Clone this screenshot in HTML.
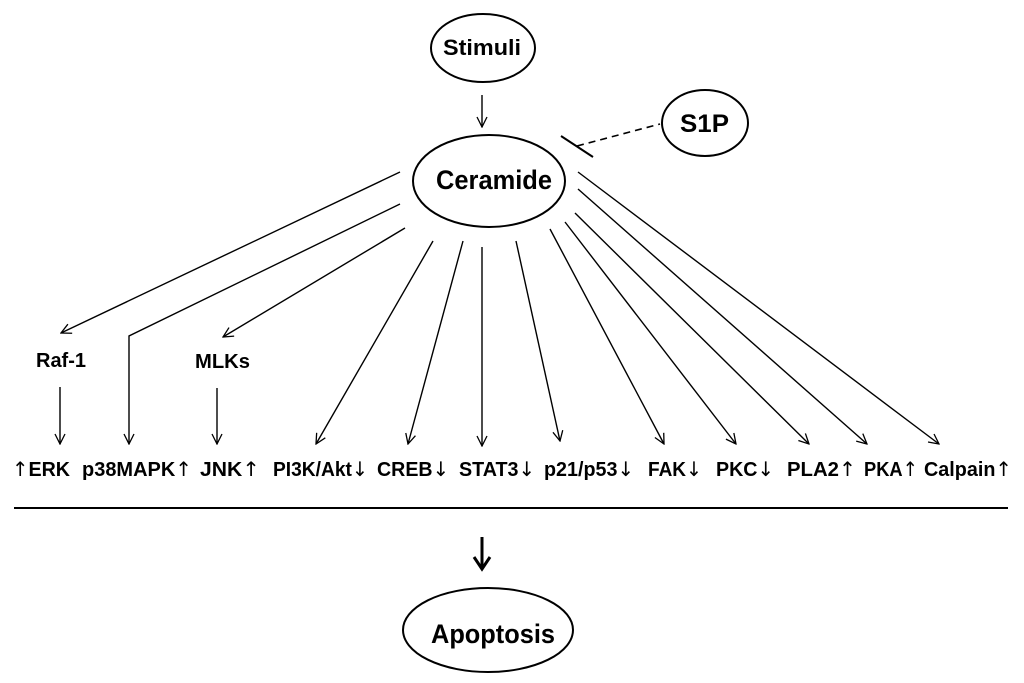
<!DOCTYPE html>
<html><head><style>html,body{margin:0;padding:0;background:#fff}svg{display:block}</style></head>
<body>
<svg width="1024" height="683" viewBox="0 0 1024 683" xmlns="http://www.w3.org/2000/svg" font-family="Liberation Sans, Arial, sans-serif" font-weight="bold">
<defs>
<marker id="a" viewBox="0 0 12 12" refX="11" refY="6" markerWidth="12" markerHeight="12" markerUnits="userSpaceOnUse" orient="auto">
<path d="M1,1 L11,6 L1,11" fill="none" stroke="#000" stroke-width="1.3"/>
</marker>
</defs>
<g fill="none" stroke="#000" stroke-width="2">
<ellipse cx="483" cy="48" rx="52" ry="34"/>
<ellipse cx="489" cy="181" rx="76" ry="46"/>
<ellipse cx="705" cy="123" rx="43" ry="33"/>
<ellipse cx="488" cy="630" rx="85" ry="42"/>
</g>
<g stroke="#000" stroke-width="1.4" fill="none" marker-end="url(#a)">
<line x1="482" y1="95" x2="482" y2="127"/>
<line x1="400" y1="172" x2="61" y2="333"/>
<polyline points="400,204 129,336 129,444"/>
<line x1="405" y1="228" x2="223" y2="337"/>
<line x1="60" y1="387" x2="60" y2="444"/>
<line x1="217" y1="388" x2="217" y2="444"/>
<line x1="433" y1="241" x2="316" y2="444"/>
<line x1="463" y1="241" x2="408" y2="444"/>
<line x1="482" y1="247" x2="482" y2="446"/>
<line x1="516" y1="241" x2="560" y2="441"/>
<line x1="550" y1="229" x2="664" y2="444"/>
<line x1="565" y1="222" x2="736" y2="444"/>
<line x1="575" y1="213" x2="809" y2="444"/>
<line x1="578" y1="189" x2="867" y2="444"/>
<line x1="578" y1="172" x2="939" y2="444"/>
</g>
<line x1="561" y1="136" x2="593" y2="157" stroke="#000" stroke-width="2"/>
<line x1="577" y1="146" x2="660" y2="124" stroke="#000" stroke-width="1.6" stroke-dasharray="7,5"/>
<line x1="14" y1="508" x2="1008" y2="508" stroke="#000" stroke-width="2"/>
<line x1="482" y1="537" x2="482" y2="567" stroke="#000" stroke-width="3"/>
<path d="M474,557 L482,569 L490,557" fill="none" stroke="#000" stroke-width="3"/>
<g fill="#000">
<text x="443" y="55" font-size="22" textLength="78" lengthAdjust="spacingAndGlyphs">Stimuli</text>
<text x="436" y="189" font-size="27" textLength="116" lengthAdjust="spacingAndGlyphs">Ceramide</text>
<text x="680" y="132" font-size="25" textLength="49" lengthAdjust="spacingAndGlyphs">S1P</text>
<text x="431" y="643" font-size="27" textLength="124" lengthAdjust="spacingAndGlyphs">Apoptosis</text>
<text x="36" y="367" font-size="20" textLength="50" lengthAdjust="spacingAndGlyphs">Raf-1</text>
<text x="195" y="368" font-size="20" textLength="55" lengthAdjust="spacingAndGlyphs">MLKs</text>
<g font-size="20">
<text x="12" y="476" textLength="58" lengthAdjust="spacingAndGlyphs"><tspan font-weight="normal" font-family="DejaVu Sans">↑</tspan>ERK</text>
<text x="82" y="476" textLength="110" lengthAdjust="spacingAndGlyphs">p38MAPK<tspan font-weight="normal" font-family="DejaVu Sans">↑</tspan></text>
<text x="200" y="476" textLength="60" lengthAdjust="spacingAndGlyphs">JNK<tspan font-weight="normal" font-family="DejaVu Sans">↑</tspan></text>
<text x="273" y="476" textLength="95" lengthAdjust="spacingAndGlyphs">PI3K/Akt<tspan font-weight="normal" font-family="DejaVu Sans">↓</tspan></text>
<text x="377" y="476" textLength="72" lengthAdjust="spacingAndGlyphs">CREB<tspan font-weight="normal" font-family="DejaVu Sans">↓</tspan></text>
<text x="459" y="476" textLength="76" lengthAdjust="spacingAndGlyphs">STAT3<tspan font-weight="normal" font-family="DejaVu Sans">↓</tspan></text>
<text x="544" y="476" textLength="90" lengthAdjust="spacingAndGlyphs">p21/p53<tspan font-weight="normal" font-family="DejaVu Sans">↓</tspan></text>
<text x="648" y="476" textLength="54" lengthAdjust="spacingAndGlyphs">FAK<tspan font-weight="normal" font-family="DejaVu Sans">↓</tspan></text>
<text x="716" y="476" textLength="58" lengthAdjust="spacingAndGlyphs">PKC<tspan font-weight="normal" font-family="DejaVu Sans">↓</tspan></text>
<text x="787" y="476" textLength="69" lengthAdjust="spacingAndGlyphs">PLA2<tspan font-weight="normal" font-family="DejaVu Sans">↑</tspan></text>
<text x="864" y="476" textLength="54" lengthAdjust="spacingAndGlyphs">PKA<tspan font-weight="normal" font-family="DejaVu Sans">↑</tspan></text>
<text x="924" y="476" textLength="88" lengthAdjust="spacingAndGlyphs">Calpain<tspan font-weight="normal" font-family="DejaVu Sans">↑</tspan></text>
</g>
</g>
</svg>
</body></html>
